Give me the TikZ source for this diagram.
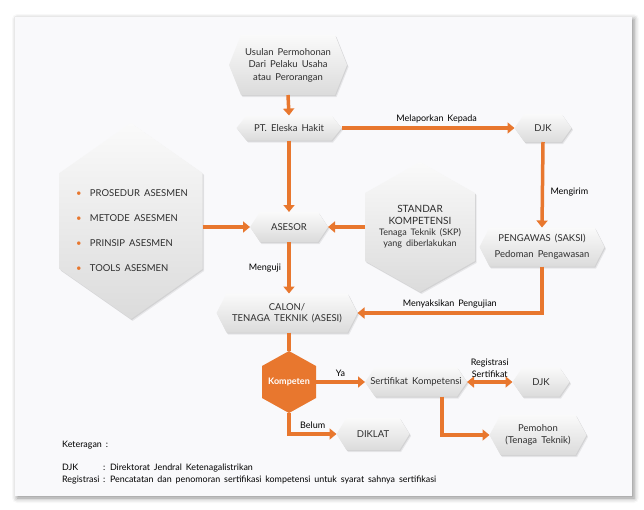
\documentclass[tikz,border=0pt]{standalone}
\usepackage{fontspec}
\setmainfont{Lato}[WordSpace=1.7]
\usepackage{xcolor}
\definecolor{flow}{HTML}{E8772E}
\definecolor{textdark}{HTML}{2E2E2E}
\definecolor{panelbg}{HTML}{F9F9FB}
\usetikzlibrary{arrows.meta, shadows.blur}

\tikzset{
    hex depth/.store in=\hexdepth,
    hex depth=10pt,
    % flat hexagon, points left and right (inset 2pt inside the node box)
    hex_flat_path/.style 2 args={insert path={
        ([shift={(#1+2pt,#2)}]path picture bounding box.west)
        -- ([shift={(#1+2pt+\hexdepth,#2-2pt)}]path picture bounding box.north west)
        -- ([shift={(#1-2pt-\hexdepth,#2-2pt)}]path picture bounding box.north east)
        -- ([shift={(#1-2pt,#2)}]path picture bounding box.east)
        -- ([shift={(#1-2pt-\hexdepth,#2+2pt)}]path picture bounding box.south east)
        -- ([shift={(#1+2pt+\hexdepth,#2+2pt)}]path picture bounding box.south west)
        -- cycle}},
    % tall hexagon, points up and down
    hex_tall_path/.style 2 args={insert path={
        ([shift={(#1,#2-2pt)}]path picture bounding box.north)
        -- ([shift={(#1-2pt,#2-2pt-\hexdepth)}]path picture bounding box.north east)
        -- ([shift={(#1-2pt,#2+2pt+\hexdepth)}]path picture bounding box.south east)
        -- ([shift={(#1,#2+2pt)}]path picture bounding box.south)
        -- ([shift={(#1+2pt,#2+2pt+\hexdepth)}]path picture bounding box.south west)
        -- ([shift={(#1+2pt,#2-2pt-\hexdepth)}]path picture bounding box.north west)
        -- cycle}}
}

\begin{document}
\begin{tikzpicture}[
        x=1pt, y=-1pt,
        font=\fontsize{9.5}{11.5}\selectfont,
        hex_base/.style={
            rectangle,
            inner sep=0pt,
            outer sep=-2pt,
            text=textdark,
            align=center
        },
        hex_box/.style={
            hex_base,
            path picture={
                \fill[black, opacity=0.07, hex_flat_path={1.6pt}{-2pt}];
                \fill[black, opacity=0.09, hex_flat_path={0.8pt}{-1pt}];
                \shade[top color=gray!4, bottom color=gray!28, hex_flat_path={0pt}{0pt}];
            }
        },
        tall_hex/.style={
            hex_base,
            path picture={
                \fill[black, opacity=0.07, hex_tall_path={1.6pt}{-2pt}];
                \fill[black, opacity=0.09, hex_tall_path={0.8pt}{-1pt}];
                \shade[top color=gray!4, bottom color=gray!28, hex_tall_path={0pt}{0pt}];
            }
        },
        decision_hex/.style={
            hex_base,
            text=white,
            font=\fontsize{9}{11}\selectfont\bfseries,
            path picture={
                \fill[flow, hex_tall_path={0pt}{0pt}];
            }
        },
        flow_arrow/.style={
            -{Triangle[length=7pt, width=11pt]},
            draw=flow,
            line width=3.5pt
        },
        flow_line/.style={
            draw=flow,
            line width=3.5pt
        },
        flow_label/.style={
            font=\fontsize{9}{12}\selectfont,
            text=black,
            align=center
        },
        legend_text/.style={
            font=\fontsize{8.9}{10}\selectfont,
            text=black,
            inner sep=0pt,
            anchor=base west
        }
    ]

    \useasboundingbox (0,0) rectangle (644,509);

    % Panel
    \fill[panelbg, blur shadow={shadow xshift=2pt, shadow yshift=-2pt, shadow blur radius=5pt, shadow opacity=45}] (15,17) rectangle (632,496);

    % Main column
    \node[hex_box, hex depth=12pt, minimum width=122pt, minimum height=64pt, font=\fontsize{9.5}{12.5}\selectfont] (usulan) at (288,65) {Usulan Permohonan\\Dari Pelaku Usaha\\atau Perorangan};
    \node[hex_box, minimum width=109pt, minimum height=29pt] (eleska) at (289,128) {PT. Eleska Hakit};
    \node[hex_box, minimum width=82pt, minimum height=34pt] (asesor) at (289,227) {ASESOR};
    \node[hex_box, minimum width=145pt, minimum height=43pt] (calon) at (287,313) {CALON/\\TENAGA TEKNIK (ASESI)};

    % Right column
    \node[hex_box, minimum width=61pt, minimum height=32pt] (djk_top) at (543,128) {DJK};
    \node[hex_box, minimum width=129pt, minimum height=43pt, font=\fontsize{9.5}{16}\selectfont] (pengawas) at (542,247) {PENGAWAS (SAKSI)\\Pedoman Pengawasan};

    % Side hexagons
    \node[tall_hex, hex depth=50pt, minimum width=147pt, minimum height=200pt] (asesmen) at (131,221) {};
    \node[font=\fontsize{9.5}{25}\selectfont, text=textdark, align=left] (asesmen_list) at (132,231) {%
        \textcolor{flow}{\textbullet}\ \ PROSEDUR ASESMEN\\
        \textcolor{flow}{\textbullet}\ \ METODE ASESMEN\\
        \textcolor{flow}{\textbullet}\ \ PRINSIP ASESMEN\\
        \textcolor{flow}{\textbullet}\ \ TOOLS ASESMEN};
    \node[tall_hex, hex depth=31pt, minimum width=114pt, minimum height=134pt, font=\fontsize{10}{12}\selectfont] (standar) at (420,227) {STANDAR\\KOMPETENSI\\[-1pt]{\fontsize{9}{12}\selectfont Tenaga Teknik (SKP)}\\[-1pt]{\fontsize{9}{12}\selectfont yang diberlakukan}};

    % Decision
    \node[decision_hex, hex depth=15pt, minimum width=58pt, minimum height=66pt] (kompeten) at (289,382) {Kompeten};
    \node[hex_box, minimum width=106pt, minimum height=33pt] (sertifikat) at (416,382) {Sertifikat Kompetensi};
    \node[hex_box, minimum width=61pt, minimum height=33pt] (djk_bottom) at (541,382) {DJK};
    \node[hex_box, hex depth=11pt, minimum width=101pt, minimum height=44pt] (pemohon) at (538,435) {Pemohon\\(Tenaga Teknik)};
    \node[hex_box, minimum width=77pt, minimum height=36pt] (diklat) at (373,434) {DIKLAT};

    % Main Flow Arrows
    \draw[flow_arrow] (usulan.south) -- (eleska.north);
    \draw[flow_arrow] (eleska.south) -- (asesor.north);
    \draw[flow_arrow] (asesor.south) -- (asesor.south |- calon.north) node[midway, left, xshift=-3pt, flow_label] {Menguji};
    \draw[flow_arrow] (eleska.east) -- (djk_top.west) node[pos=0.55, above, flow_label] {Melaporkan Kepada};
    \draw[flow_arrow] (djk_top.south) -- (pengawas.north) node[pos=0.58, right, xshift=3pt, flow_label] {Mengirim};
    \draw[flow_arrow] (pengawas.south) |- (calon.east) node[pos=0.75, above, flow_label] {Menyaksikan Pengujian};
    \draw[flow_arrow] (asesmen.east |- asesor.west) -- (asesor.west);
    \draw[flow_arrow] (standar.west |- asesor.east) -- (asesor.east);
    \draw[flow_line] (calon.south -| kompeten.north) -- (kompeten.north);

    % Outcome Arrows
    \draw[flow_arrow] (kompeten.east) -- (sertifikat.west) node[midway, above, flow_label] {Ya};
    \draw[flow_arrow] (kompeten.south) |- (diklat.west) node[pos=0.75, above, flow_label] {Belum};
    \draw[{Triangle[length=7pt, width=11pt]}-{Triangle[length=7pt, width=11pt]}, draw=flow, line width=3.5pt] (sertifikat.east) -- (djk_bottom.west) node[midway, above, yshift=-1pt, flow_label] {Registrasi\\Sertifikat};
    \draw[flow_arrow] ([xshift=26pt]sertifikat.south) |- (pemohon.west);

    % Legend
    \node[legend_text] (ket_title) at (62,447) {Keteragan :};
    \node[legend_text] (ket_djk) at (62,470) {DJK};
    \node[legend_text] (ket_djk_text) at (103,470) {: Direktorat Jendral Ketenagalistrikan};
    \node[legend_text] (ket_reg) at (62,482) {Registrasi};
    \node[legend_text] (ket_reg_text) at (103,482) {: Pencatatan dan penomoran sertifikasi kompetensi untuk syarat sahnya sertifikasi};

\end{tikzpicture}
\end{document}
